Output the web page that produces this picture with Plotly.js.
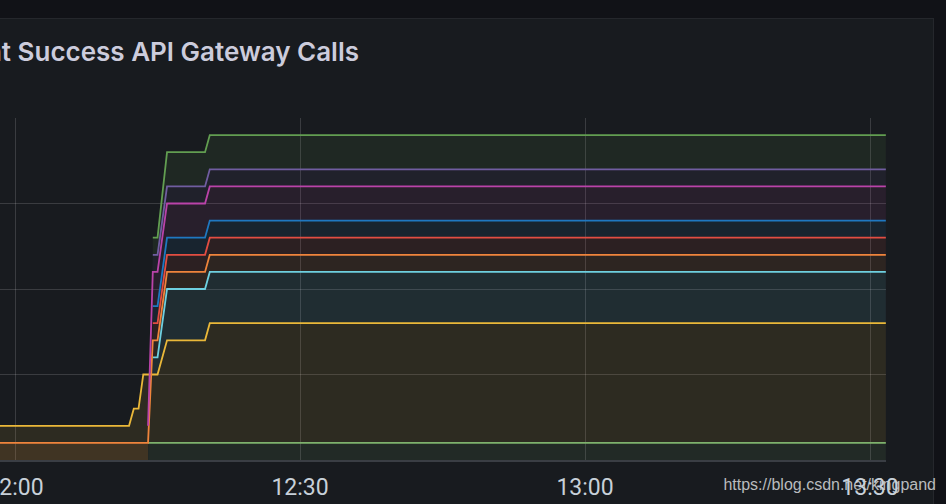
<!DOCTYPE html>
<html>
<head>
<meta charset="utf-8">
<script src="https://cdn.plot.ly/plotly-3.0.1.min.js"></script>
<style>
  html, body { margin:0; padding:0; background:#111217; width:946px; height:504px; overflow:hidden; }
  #panel { position:absolute; left:-10px; top:18px; width:944px; height:500px; background:#181b1f; border:1px solid #25272c; box-sizing:border-box; z-index:0; }
  #wm { position:absolute; right:10px; top:476px; font-family:"Liberation Sans", Arial, sans-serif; font-size:16px; color:#b9bbbe; z-index:1; white-space:nowrap; }
  #chart { position:absolute; left:0; top:0; width:946px; height:504px; z-index:2; }
</style>
</head>
<body>
<div id="panel"></div>
<div id="wm">https://blog.csdn.net/kingpand</div>
<div id="chart"></div>
<script>
// ---- data (time of day, value) ----
const DAY = '2021-06-01 ';
const titleText = 'Count Success API Gateway Calls';
const xRange = ['11:58:25', '13:31:41'];
const xTick0 = '12:00:00';

const seriesNames  = ['A', 'B', 'C', 'D', 'E', 'F', 'G', 'H', 'I'];
const seriesColors = ['#7EB26D', '#EAB839', '#6ED0E0', '#EF843C', '#E24D42', '#1F78C1', '#BA43A9', '#705DA0', '#629E51'];

const tA = ['12:14:00', '13:31:40'];
const vA = [4, 4];
const tB = ['11:50:00', '12:12:00', '12:12:30', '12:13:00', '12:13:30', '12:14:00', '12:15:00', '12:16:00', '12:20:00', '12:20:30', '13:31:40'];
const vB = [8, 8, 12, 12, 20, 20, 20, 28, 28, 32, 32];
const tC = ['12:14:30', '12:15:00', '12:16:00', '12:20:00', '12:20:30', '13:31:40'];
const vC = [24, 24, 40, 40, 44, 44];
const tD = ['11:50:00', '12:14:00', '12:14:30', '12:15:00', '12:16:00', '12:20:00', '12:20:30', '13:31:40'];
const vD = [4, 4, 28, 28, 44, 44, 48, 48];
const tE = ['12:14:30', '12:15:00', '12:16:00', '12:20:00', '12:20:30', '13:31:40'];
const vE = [32, 32, 48, 48, 52, 52];
const tF = ['12:14:30', '12:15:00', '12:16:00', '12:20:00', '12:20:30', '13:31:40'];
const vF = [36, 36, 52, 52, 56, 56];
const tG = ['12:14:00', '12:14:30', '12:15:00', '12:16:00', '12:20:00', '12:20:30', '13:31:40'];
const vG = [8, 44, 44, 60, 60, 64, 64];
const tH = ['12:14:30', '12:15:00', '12:16:00', '12:20:00', '12:20:30', '13:31:40'];
const vH = [48, 48, 64, 64, 68, 68];
const tI = ['12:14:30', '12:15:00', '12:16:00', '12:20:00', '12:20:30', '13:31:40'];
const vI = [52, 52, 72, 72, 76, 76];

const yRange = [0, 80];
const splitTime = '12:14:00';

// ---- build ----
const times = [tA, tB, tC, tD, tE, tF, tG, tH, tI];
const vals  = [vA, vB, vC, vD, vE, vF, vG, vH, vI];
function rgba(hex, a) {
  const n = parseInt(hex.slice(1), 16);
  return 'rgba(' + ((n >> 16) & 255) + ',' + ((n >> 8) & 255) + ',' + (n & 255) + ',' + a + ')';
}
function pick(i, cond) {
  const x = [], y = [];
  times[i].forEach((t, k) => { if (cond(t)) { x.push(DAY + t); y.push(vals[i][k]); } });
  return {x, y};
}
const traces = [];
// fills before the split: each filled down to zero
[3, 1].forEach(i => {
  const p = pick(i, t => t <= splitTime);
  traces.push({type:'scatter', mode:'none', x:p.x, y:p.y, fill:'tozeroy',
    fillcolor: rgba(seriesColors[i], 0.1), hoverinfo:'skip', showlegend:false});
});
// fills after the split: each band filled down to the series below it
seriesNames.forEach((nm, i) => {
  const p = pick(i, t => t >= splitTime);
  traces.push({type:'scatter', mode:'none', x:p.x, y:p.y, fill: i === 0 ? 'tozeroy' : 'tonexty',
    fillcolor: rgba(seriesColors[i], 0.1), hoverinfo:'skip', showlegend:false});
});
// lines
[0, 1, 2, 3, 4, 5, 7, 8, 6].forEach(i => {
  traces.push({type:'scatter', mode:'lines', name: seriesNames[i],
    x: times[i].map(t => DAY + t), y: vals[i],
    line:{color: seriesColors[i], width:1.8}, hoverinfo:'skip', showlegend:false});
});

const gridCol = 'rgba(255,255,255,0.15)';
const layout = {
  width: 946, height: 504,
  paper_bgcolor: 'rgba(0,0,0,0)',
  plot_bgcolor: 'rgba(0,0,0,0)',
  margin: {l:0, r:60, t:118, b:44},
  showlegend: false,
  title: {text: titleText, xref:'container', yref:'container', x: 359/946, xanchor:'right',
    y: 1 - 52/504, yanchor:'middle',
    font:{family:'Inter, Roboto, sans-serif', size:26, color:'#ccccdc', weight:600}},
  xaxis: {type:'date', range: xRange.map(t => DAY + t), tick0: DAY + xTick0, dtick: 30*60*1000,
    tickformat:'%H:%M', showgrid:true, gridcolor: gridCol, gridwidth:1,
    showline:true, linecolor:'#3a3e44', linewidth:2, zeroline:false, ticks:'',
    ticklabelstandoff: 5, ticklabeloverflow:'allow',
    tickfont:{family:'Roboto, sans-serif', size:23, color:'#c7d0d9'}, fixedrange:true},
  yaxis: {range: yRange, dtick:20, showgrid:true, gridcolor: gridCol, gridwidth:1,
    showticklabels:false, zeroline:false, showline:false, ticks:'', fixedrange:true}
};
Plotly.newPlot('chart', traces, layout, {staticPlot:true, displayModeBar:false});
</script>
</body>
</html>
